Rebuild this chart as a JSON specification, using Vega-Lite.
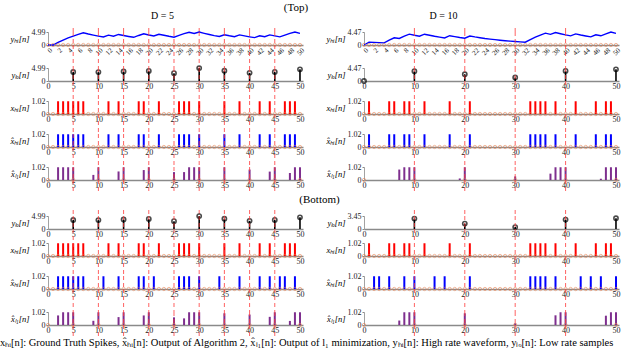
{
"$schema": "https://vega.github.io/schema/vega-lite/v6.json",
"padding": {"left": 0, "top": 2, "right": 0, "bottom": 0},
"title": {"text": "(Top)", "fontSize": 11, "offset": -2.5, "dx": -15, "anchor": "middle"},
"columns": 2,
"spacing": {"row": 0, "column": 61},
"bounds": "flush",
"datasets": {
"all": [{"n":0},{"n":1},{"n":2},{"n":3},{"n":4},{"n":5},{"n":6},{"n":7},{"n":8},{"n":9},{"n":10},{"n":11},{"n":12},{"n":13},{"n":14},{"n":15},{"n":16},{"n":17},{"n":18},{"n":19},{"n":20},{"n":21},{"n":22},{"n":23},{"n":24},{"n":25},{"n":26},{"n":27},{"n":28},{"n":29},{"n":30},{"n":31},{"n":32},{"n":33},{"n":34},{"n":35},{"n":36},{"n":37},{"n":38},{"n":39},{"n":40},{"n":41},{"n":42},{"n":43},{"n":44},{"n":45},{"n":46},{"n":47},{"n":48},{"n":49},{"n":50}],
"c5": [{"n":0},{"n":5},{"n":10},{"n":15},{"n":20},{"n":25},{"n":30},{"n":35},{"n":40},{"n":45},{"n":50}],
"c10": [{"n":0},{"n":10},{"n":20},{"n":30},{"n":40},{"n":50}],
"dL": [{"n":5},{"n":10},{"n":15},{"n":20},{"n":25},{"n":30},{"n":35},{"n":40},{"n":45}],
"dR": [{"n":10},{"n":20},{"n":30},{"n":40}],
"yhiL": [{"n":0,"v":0},{"n":1,"v":0},{"n":2,"v":1},{"n":3,"v":1.9},{"n":4,"v":2.71},{"n":5,"v":3.44},{"n":6,"v":4.1},{"n":7,"v":4.69},{"n":8,"v":4.22},{"n":9,"v":3.8},{"n":10,"v":3.42},{"n":11,"v":3.07},{"n":12,"v":3.77},{"n":13,"v":3.39},{"n":14,"v":4.05},{"n":15,"v":3.65},{"n":16,"v":3.28},{"n":17,"v":2.95},{"n":18,"v":3.66},{"n":19,"v":4.29},{"n":20,"v":3.86},{"n":21,"v":3.48},{"n":22,"v":4.13},{"n":23,"v":3.72},{"n":24,"v":3.34},{"n":25,"v":3.01},{"n":26,"v":3.71},{"n":27,"v":4.34},{"n":28,"v":4.9},{"n":29,"v":4.41},{"n":30,"v":4.97},{"n":31,"v":4.48},{"n":32,"v":4.03},{"n":33,"v":3.62},{"n":34,"v":3.26},{"n":35,"v":3.94},{"n":36,"v":3.54},{"n":37,"v":3.19},{"n":38,"v":3.87},{"n":39,"v":3.48},{"n":40,"v":3.13},{"n":41,"v":2.82},{"n":42,"v":3.54},{"n":43,"v":3.18},{"n":44,"v":3.87},{"n":45,"v":3.48},{"n":46,"v":3.13},{"n":47,"v":3.82},{"n":48,"v":4.44},{"n":49,"v":4.99},{"n":50,"v":4.49}],
"yhiR": [{"n":0,"v":0},{"n":1,"v":1},{"n":2,"v":0.9},{"n":3,"v":0.81},{"n":4,"v":0.73},{"n":5,"v":1.66},{"n":6,"v":2.49},{"n":7,"v":2.24},{"n":8,"v":3.02},{"n":9,"v":3.72},{"n":10,"v":3.34},{"n":11,"v":3.01},{"n":12,"v":3.71},{"n":13,"v":3.34},{"n":14,"v":3.0},{"n":15,"v":2.7},{"n":16,"v":2.43},{"n":17,"v":3.19},{"n":18,"v":2.87},{"n":19,"v":2.58},{"n":20,"v":2.33},{"n":21,"v":3.09},{"n":22,"v":2.78},{"n":23,"v":2.51},{"n":24,"v":2.25},{"n":25,"v":2.03},{"n":26,"v":1.83},{"n":27,"v":1.64},{"n":28,"v":1.48},{"n":29,"v":1.33},{"n":30,"v":1.2},{"n":31,"v":1.08},{"n":32,"v":0.97},{"n":33,"v":1.87},{"n":34,"v":2.69},{"n":35,"v":3.42},{"n":36,"v":4.08},{"n":37,"v":3.67},{"n":38,"v":4.3},{"n":39,"v":3.87},{"n":40,"v":3.48},{"n":41,"v":3.14},{"n":42,"v":3.82},{"n":43,"v":3.44},{"n":44,"v":3.1},{"n":45,"v":2.79},{"n":46,"v":3.51},{"n":47,"v":3.16},{"n":48,"v":3.84},{"n":49,"v":4.46},{"n":50,"v":4.01}],
"yloL": [{"n":5,"v":3.44},{"n":10,"v":3.42},{"n":15,"v":3.65},{"n":20,"v":3.86},{"n":25,"v":3.01},{"n":30,"v":4.97},{"n":35,"v":3.94},{"n":40,"v":3.13},{"n":45,"v":3.48},{"n":50,"v":4.49}],
"yloTR": [{"n":0,"v":0},{"n":10,"v":3.34},{"n":20,"v":2.33},{"n":30,"v":1.2},{"n":40,"v":3.48},{"n":50,"v":4.01}],
"yloBR": [{"n":10,"v":2.77},{"n":20,"v":1.43},{"n":30,"v":0.51},{"n":40,"v":2.49},{"n":50,"v":2.86}],
"xL": [{"n":2,"v":1},{"n":3,"v":1},{"n":4,"v":1},{"n":5,"v":1},{"n":6,"v":1},{"n":7,"v":1},{"n":12,"v":1},{"n":14,"v":1},{"n":18,"v":1},{"n":19,"v":1},{"n":22,"v":1},{"n":26,"v":1},{"n":27,"v":1},{"n":28,"v":1},{"n":30,"v":1},{"n":35,"v":1},{"n":38,"v":1},{"n":42,"v":1},{"n":44,"v":1},{"n":47,"v":1},{"n":48,"v":1},{"n":49,"v":1}],
"xR": [{"n":1,"v":1},{"n":5,"v":1},{"n":6,"v":1},{"n":8,"v":1},{"n":9,"v":1},{"n":12,"v":1},{"n":17,"v":1},{"n":21,"v":1},{"n":33,"v":1},{"n":34,"v":1},{"n":35,"v":1},{"n":36,"v":1},{"n":38,"v":1},{"n":42,"v":1},{"n":46,"v":1},{"n":48,"v":1},{"n":49,"v":1}],
"xhBL": [{"n":2,"v":1},{"n":3,"v":1},{"n":4,"v":1},{"n":5,"v":1},{"n":6,"v":1},{"n":7,"v":1},{"n":11,"v":1},{"n":14,"v":1},{"n":18,"v":1},{"n":19,"v":1},{"n":21,"v":1},{"n":26,"v":1},{"n":27,"v":1},{"n":28,"v":1},{"n":30,"v":1},{"n":34,"v":1},{"n":38,"v":1},{"n":42,"v":1},{"n":44,"v":1},{"n":46,"v":1},{"n":47,"v":1},{"n":49,"v":1}],
"xhBR": [{"n":2,"v":1},{"n":3,"v":1},{"n":5,"v":1},{"n":8,"v":1},{"n":10,"v":1},{"n":14,"v":1},{"n":16,"v":1},{"n":21,"v":1},{"n":33,"v":1},{"n":34,"v":1},{"n":35,"v":1},{"n":36,"v":1},{"n":38,"v":1},{"n":43,"v":1},{"n":45,"v":1},{"n":47,"v":1},{"n":50,"v":1}],
"l1TL": [{"n":2,"v":1},{"n":3,"v":1},{"n":4,"v":1},{"n":5,"v":1},{"n":9,"v":0.4},{"n":10,"v":1},{"n":14,"v":0.67},{"n":15,"v":1},{"n":19,"v":0.78},{"n":20,"v":1},{"n":25,"v":0.62},{"n":27,"v":0.62},{"n":28,"v":1},{"n":29,"v":1},{"n":30,"v":1},{"n":35,"v":1},{"n":40,"v":0.82},{"n":44,"v":0.66},{"n":45,"v":1},{"n":48,"v":0.55},{"n":49,"v":1},{"n":50,"v":1}],
"l1TR": [{"n":7,"v":0.82},{"n":8,"v":1},{"n":9,"v":1},{"n":10,"v":1},{"n":19,"v":0.12},{"n":20,"v":1},{"n":30,"v":0.28},{"n":37,"v":0.5},{"n":38,"v":1},{"n":39,"v":1},{"n":40,"v":1},{"n":47,"v":0.1},{"n":48,"v":1},{"n":49,"v":1},{"n":50,"v":1}],
"l1BL": [{"n":2,"v":0.75},{"n":3,"v":1},{"n":4,"v":1},{"n":5,"v":1},{"n":9,"v":0.33},{"n":10,"v":1},{"n":14,"v":0.62},{"n":15,"v":1},{"n":19,"v":0.75},{"n":20,"v":1},{"n":25,"v":0.6},{"n":27,"v":0.52},{"n":28,"v":1},{"n":29,"v":1},{"n":30,"v":1},{"n":35,"v":0.92},{"n":40,"v":0.82},{"n":44,"v":0.64},{"n":45,"v":1},{"n":48,"v":0.32},{"n":49,"v":1},{"n":50,"v":1}],
"l1BR": [{"n":7,"v":0.35},{"n":8,"v":1},{"n":9,"v":1},{"n":10,"v":1},{"n":20,"v":0.92},{"n":30,"v":0.14},{"n":38,"v":0.76},{"n":39,"v":1},{"n":40,"v":1},{"n":48,"v":0.73},{"n":49,"v":1},{"n":50,"v":1}]
},
"concat": [
{"width":255,"height":4,"title":{"text":"D = 5","fontSize":10,"offset":7,"dx":-13},"data":{"name":"dL"},"mark":{"type":"rule","color":"#ff3b3b","strokeDash":[4,3],"strokeWidth":1,"opacity":0.8},"encoding":{"x":{"field":"n","type":"quantitative","scale":{"domain":[0,50.6],"nice":false},"axis":null}}},
{"width":255,"height":4,"title":{"text":"D = 10","fontSize":10,"offset":7,"dx":-48},"data":{"name":"dR"},"mark":{"type":"rule","color":"#ff3b3b","strokeDash":[4,3],"strokeWidth":1,"opacity":0.8},"encoding":{"x":{"field":"n","type":"quantitative","scale":{"domain":[0,50.6],"nice":false},"axis":null}}},

{"width":255,"height":13,
 "encoding":{"x":{"field":"n","type":"quantitative","scale":{"domain":[0,50.6],"nice":false},"axis":{"values":[0,2,4,6,8,10,12,14,16,18,20,22,24,26,28,30,32,34,36,38,40,42,44,46,48,50],"labelAngle":-45,"labelFontSize":7,"title":null}}},
 "layer":[
  {"data":{"name":"yhiL"},"mark":{"type":"line","color":"#0000ff","strokeWidth":1.4},"encoding":{"y":{"field":"v","type":"quantitative","scale":{"domain":[0,4.99],"nice":false},"axis":{"values":[0,4.99],"format":".3~g","title":"yₕᵢ[n]"}}}},
  {"data":{"name":"all"},"mark":{"type":"point","shape":"circle","filled":false,"color":"#e8804f","size":11,"strokeWidth":0.8},"encoding":{"y":{"datum":0,"type":"quantitative"}}},
  {"data":{"name":"dL"},"mark":{"type":"rule","color":"#ff3b3b","strokeDash":[4,3],"strokeWidth":1,"opacity":0.8},"encoding":{}}
 ]},
{"width":255,"height":13,
 "encoding":{"x":{"field":"n","type":"quantitative","scale":{"domain":[0,50.6],"nice":false},"axis":{"values":[0,2,4,6,8,10,12,14,16,18,20,22,24,26,28,30,32,34,36,38,40,42,44,46,48,50],"labelAngle":-45,"labelFontSize":7,"title":null}}},
 "layer":[
  {"data":{"name":"yhiR"},"mark":{"type":"line","color":"#0000ff","strokeWidth":1.4},"encoding":{"y":{"field":"v","type":"quantitative","scale":{"domain":[0,4.47],"nice":false},"axis":{"values":[0,4.47],"format":".3~g","title":"yₕᵢ[n]"}}}},
  {"data":{"name":"all"},"mark":{"type":"point","shape":"circle","filled":false,"color":"#e8804f","size":11,"strokeWidth":0.8},"encoding":{"y":{"datum":0,"type":"quantitative"}}},
  {"data":{"name":"dR"},"mark":{"type":"rule","color":"#ff3b3b","strokeDash":[4,3],"strokeWidth":1,"opacity":0.8},"encoding":{}}
 ]},

{"width":255,"height":23,"data":{"name":"dL"},"mark":{"type":"rule","color":"#ff3b3b","strokeDash":[4,3],"strokeWidth":1,"opacity":0.8},"encoding":{"x":{"field":"n","type":"quantitative","scale":{"domain":[0,50.6],"nice":false},"axis":null}}},
{"width":255,"height":23,"data":{"name":"dR"},"mark":{"type":"rule","color":"#ff3b3b","strokeDash":[4,3],"strokeWidth":1,"opacity":0.8},"encoding":{"x":{"field":"n","type":"quantitative","scale":{"domain":[0,50.6],"nice":false},"axis":null}}},

{"width":255,"height":13,
 "encoding":{"x":{"field":"n","type":"quantitative","scale":{"domain":[0,50.6],"nice":false},"axis":{"values":[0,5,10,15,20,25,30,35,40,45,50],"title":null}}},
 "layer":[
  {"data":{"name":"yloL"},"mark":{"type":"rule","color":"#000000","strokeWidth":1.6},"encoding":{"y":{"field":"v","type":"quantitative","scale":{"domain":[0,4.99],"nice":false},"axis":{"values":[0,4.99],"format":".3~g","title":"yₗₒ[n]"}},"y2":{"datum":0}}},
  {"data":{"name":"yloL"},"mark":{"type":"point","shape":"circle","filled":false,"color":"#000000","size":18,"strokeWidth":1.6},"encoding":{"y":{"field":"v","type":"quantitative"}}},
  {"data":{"name":"dL"},"mark":{"type":"rule","color":"#ff3b3b","strokeDash":[4,3],"strokeWidth":1,"opacity":0.8},"encoding":{}}
 ]},
{"width":255,"height":13,
 "encoding":{"x":{"field":"n","type":"quantitative","scale":{"domain":[0,50.6],"nice":false},"axis":{"values":[0,10,20,30,40,50],"title":null}}},
 "layer":[
  {"data":{"name":"yloTR"},"mark":{"type":"rule","color":"#000000","strokeWidth":1.6},"encoding":{"y":{"field":"v","type":"quantitative","scale":{"domain":[0,4.47],"nice":false},"axis":{"values":[0,4.47],"format":".3~g","title":"yₗₒ[n]"}},"y2":{"datum":0}}},
  {"data":{"name":"yloTR"},"mark":{"type":"point","shape":"circle","filled":false,"color":"#000000","size":18,"strokeWidth":1.6},"encoding":{"y":{"field":"v","type":"quantitative"}}},
  {"data":{"name":"dR"},"mark":{"type":"rule","color":"#ff3b3b","strokeDash":[4,3],"strokeWidth":1,"opacity":0.8},"encoding":{}}
 ]},

{"width":255,"height":20,"data":{"name":"dL"},"mark":{"type":"rule","color":"#ff3b3b","strokeDash":[4,3],"strokeWidth":1,"opacity":0.8},"encoding":{"x":{"field":"n","type":"quantitative","scale":{"domain":[0,50.6],"nice":false},"axis":null}}},
{"width":255,"height":20,"data":{"name":"dR"},"mark":{"type":"rule","color":"#ff3b3b","strokeDash":[4,3],"strokeWidth":1,"opacity":0.8},"encoding":{"x":{"field":"n","type":"quantitative","scale":{"domain":[0,50.6],"nice":false},"axis":null}}},

{"width":255,"height":13,
 "encoding":{"x":{"field":"n","type":"quantitative","scale":{"domain":[0,50.6],"nice":false},"axis":{"values":[0,5,10,15,20,25,30,35,40,45,50],"title":null}}},
 "layer":[
  {"data":{"name":"xL"},"mark":{"type":"rule","color":"#ff0000","strokeWidth":2},"encoding":{"y":{"field":"v","type":"quantitative","scale":{"domain":[0,1.02],"nice":false},"axis":{"values":[0,1.02],"format":".3~g","title":"xₕᵢ[n]"}},"y2":{"datum":0}}},
  {"data":{"name":"all"},"mark":{"type":"point","shape":"circle","filled":false,"color":"#e8804f","size":11,"strokeWidth":0.8},"encoding":{"y":{"datum":0,"type":"quantitative"}}},
  {"data":{"name":"dL"},"mark":{"type":"rule","color":"#ff3b3b","strokeDash":[4,3],"strokeWidth":1,"opacity":0.8},"encoding":{}}
 ]},
{"width":255,"height":13,
 "encoding":{"x":{"field":"n","type":"quantitative","scale":{"domain":[0,50.6],"nice":false},"axis":{"values":[0,10,20,30,40,50],"title":null}}},
 "layer":[
  {"data":{"name":"xR"},"mark":{"type":"rule","color":"#ff0000","strokeWidth":2},"encoding":{"y":{"field":"v","type":"quantitative","scale":{"domain":[0,1.02],"nice":false},"axis":{"values":[0,1.02],"format":".3~g","title":"xₕᵢ[n]"}},"y2":{"datum":0}}},
  {"data":{"name":"all"},"mark":{"type":"point","shape":"circle","filled":false,"color":"#e8804f","size":11,"strokeWidth":0.8},"encoding":{"y":{"datum":0,"type":"quantitative"}}},
  {"data":{"name":"dR"},"mark":{"type":"rule","color":"#ff3b3b","strokeDash":[4,3],"strokeWidth":1,"opacity":0.8},"encoding":{}}
 ]},

{"width":255,"height":20,"data":{"name":"dL"},"mark":{"type":"rule","color":"#ff3b3b","strokeDash":[4,3],"strokeWidth":1,"opacity":0.8},"encoding":{"x":{"field":"n","type":"quantitative","scale":{"domain":[0,50.6],"nice":false},"axis":null}}},
{"width":255,"height":20,"data":{"name":"dR"},"mark":{"type":"rule","color":"#ff3b3b","strokeDash":[4,3],"strokeWidth":1,"opacity":0.8},"encoding":{"x":{"field":"n","type":"quantitative","scale":{"domain":[0,50.6],"nice":false},"axis":null}}},

{"width":255,"height":13,
 "encoding":{"x":{"field":"n","type":"quantitative","scale":{"domain":[0,50.6],"nice":false},"axis":{"values":[0,5,10,15,20,25,30,35,40,45,50],"title":null}}},
 "layer":[
  {"data":{"name":"xL"},"mark":{"type":"rule","color":"#0000ff","strokeWidth":2},"encoding":{"y":{"field":"v","type":"quantitative","scale":{"domain":[0,1.02],"nice":false},"axis":{"values":[0,1.02],"format":".3~g","title":"x̂ₕᵢ[n]"}},"y2":{"datum":0}}},
  {"data":{"name":"all"},"mark":{"type":"point","shape":"circle","filled":false,"color":"#e8804f","size":11,"strokeWidth":0.8},"encoding":{"y":{"datum":0,"type":"quantitative"}}},
  {"data":{"name":"dL"},"mark":{"type":"rule","color":"#ff3b3b","strokeDash":[4,3],"strokeWidth":1,"opacity":0.8},"encoding":{}}
 ]},
{"width":255,"height":13,
 "encoding":{"x":{"field":"n","type":"quantitative","scale":{"domain":[0,50.6],"nice":false},"axis":{"values":[0,10,20,30,40,50],"title":null}}},
 "layer":[
  {"data":{"name":"xR"},"mark":{"type":"rule","color":"#0000ff","strokeWidth":2},"encoding":{"y":{"field":"v","type":"quantitative","scale":{"domain":[0,1.02],"nice":false},"axis":{"values":[0,1.02],"format":".3~g","title":"x̂ₕᵢ[n]"}},"y2":{"datum":0}}},
  {"data":{"name":"all"},"mark":{"type":"point","shape":"circle","filled":false,"color":"#e8804f","size":11,"strokeWidth":0.8},"encoding":{"y":{"datum":0,"type":"quantitative"}}},
  {"data":{"name":"dR"},"mark":{"type":"rule","color":"#ff3b3b","strokeDash":[4,3],"strokeWidth":1,"opacity":0.8},"encoding":{}}
 ]},

{"width":255,"height":20,"data":{"name":"dL"},"mark":{"type":"rule","color":"#ff3b3b","strokeDash":[4,3],"strokeWidth":1,"opacity":0.8},"encoding":{"x":{"field":"n","type":"quantitative","scale":{"domain":[0,50.6],"nice":false},"axis":null}}},
{"width":255,"height":20,"data":{"name":"dR"},"mark":{"type":"rule","color":"#ff3b3b","strokeDash":[4,3],"strokeWidth":1,"opacity":0.8},"encoding":{"x":{"field":"n","type":"quantitative","scale":{"domain":[0,50.6],"nice":false},"axis":null}}},

{"width":255,"height":13,
 "encoding":{"x":{"field":"n","type":"quantitative","scale":{"domain":[0,50.6],"nice":false},"axis":{"values":[0,5,10,15,20,25,30,35,40,45,50],"title":null}}},
 "layer":[
  {"data":{"name":"l1TL"},"mark":{"type":"rule","color":"#7e2f8e","strokeWidth":2},"encoding":{"y":{"field":"v","type":"quantitative","scale":{"domain":[0,1.02],"nice":false},"axis":{"values":[0,1.02],"format":".3~g","title":"x̂ₗ₁[n]"}},"y2":{"datum":0}}},
  {"data":{"name":"c5"},"mark":{"type":"point","shape":"circle","filled":false,"color":"#e8804f","size":11,"strokeWidth":0.8},"encoding":{"y":{"datum":0,"type":"quantitative"}}},
  {"data":{"name":"dL"},"mark":{"type":"rule","color":"#ff3b3b","strokeDash":[4,3],"strokeWidth":1,"opacity":0.8},"encoding":{}}
 ]},
{"width":255,"height":13,
 "encoding":{"x":{"field":"n","type":"quantitative","scale":{"domain":[0,50.6],"nice":false},"axis":{"values":[0,10,20,30,40,50],"title":null}}},
 "layer":[
  {"data":{"name":"l1TR"},"mark":{"type":"rule","color":"#7e2f8e","strokeWidth":2},"encoding":{"y":{"field":"v","type":"quantitative","scale":{"domain":[0,1.02],"nice":false},"axis":{"values":[0,1.02],"format":".3~g","title":"x̂ₗ₁[n]"}},"y2":{"datum":0}}},
  {"data":{"name":"c10"},"mark":{"type":"point","shape":"circle","filled":false,"color":"#e8804f","size":11,"strokeWidth":0.8},"encoding":{"y":{"datum":0,"type":"quantitative"}}},
  {"data":{"name":"dR"},"mark":{"type":"rule","color":"#ff3b3b","strokeDash":[4,3],"strokeWidth":1,"opacity":0.8},"encoding":{}}
 ]},

{"width":255,"height":12,"data":{"name":"dL"},"mark":{"type":"rule","color":"#ff3b3b","strokeDash":[4,3],"strokeWidth":1,"opacity":0.8},"encoding":{"x":{"field":"n","type":"quantitative","scale":{"domain":[0,50.6],"nice":false},"axis":null}}},
{"width":255,"height":12,"data":{"name":"dR"},"mark":{"type":"rule","color":"#ff3b3b","strokeDash":[4,3],"strokeWidth":1,"opacity":0.8},"encoding":{"x":{"field":"n","type":"quantitative","scale":{"domain":[0,50.6],"nice":false},"axis":null}}},
{"width":255,"height":18,"data":{"values":[]},"mark":{"type":"rule"},"encoding":{"x":{"field":"n","type":"quantitative","scale":{"domain":[0,50.6],"nice":false},"axis":null}}},
{"width":255,"height":18,"data":{"values":[]},"mark":{"type":"rule"},"encoding":{"x":{"field":"n","type":"quantitative","scale":{"domain":[0,50.6],"nice":false},"axis":null}}},
{"width":255,"height":6,"title":{"text":"(Bottom)","fontSize":11,"offset":5,"dx":144},"data":{"name":"dL"},"mark":{"type":"rule","color":"#ff3b3b","strokeDash":[4,3],"strokeWidth":1,"opacity":0.8},"encoding":{"x":{"field":"n","type":"quantitative","scale":{"domain":[0,50.6],"nice":false},"axis":null}}},
{"width":255,"height":6,"data":{"name":"dR"},"mark":{"type":"rule","color":"#ff3b3b","strokeDash":[4,3],"strokeWidth":1,"opacity":0.8},"encoding":{"x":{"field":"n","type":"quantitative","scale":{"domain":[0,50.6],"nice":false},"axis":null}}},

{"width":255,"height":13,
 "encoding":{"x":{"field":"n","type":"quantitative","scale":{"domain":[0,50.6],"nice":false},"axis":{"values":[0,5,10,15,20,25,30,35,40,45,50],"title":null}}},
 "layer":[
  {"data":{"name":"yloL"},"mark":{"type":"rule","color":"#000000","strokeWidth":1.6},"encoding":{"y":{"field":"v","type":"quantitative","scale":{"domain":[0,4.99],"nice":false},"axis":{"values":[0,4.99],"format":".3~g","title":"yₗₒ[n]"}},"y2":{"datum":0}}},
  {"data":{"name":"yloL"},"mark":{"type":"point","shape":"circle","filled":false,"color":"#000000","size":18,"strokeWidth":1.6},"encoding":{"y":{"field":"v","type":"quantitative"}}},
  {"data":{"name":"dL"},"mark":{"type":"rule","color":"#ff3b3b","strokeDash":[4,3],"strokeWidth":1,"opacity":0.8},"encoding":{}}
 ]},
{"width":255,"height":13,
 "encoding":{"x":{"field":"n","type":"quantitative","scale":{"domain":[0,50.6],"nice":false},"axis":{"values":[0,10,20,30,40,50],"title":null}}},
 "layer":[
  {"data":{"name":"yloBR"},"mark":{"type":"rule","color":"#000000","strokeWidth":1.6},"encoding":{"y":{"field":"v","type":"quantitative","scale":{"domain":[0,3.45],"nice":false},"axis":{"values":[0,3.45],"format":".3~g","title":"yₗₒ[n]"}},"y2":{"datum":0}}},
  {"data":{"name":"yloBR"},"mark":{"type":"point","shape":"circle","filled":false,"color":"#000000","size":18,"strokeWidth":1.6},"encoding":{"y":{"field":"v","type":"quantitative"}}},
  {"data":{"name":"dR"},"mark":{"type":"rule","color":"#ff3b3b","strokeDash":[4,3],"strokeWidth":1,"opacity":0.8},"encoding":{}}
 ]},

{"width":255,"height":14,"data":{"name":"dL"},"mark":{"type":"rule","color":"#ff3b3b","strokeDash":[4,3],"strokeWidth":1,"opacity":0.8},"encoding":{"x":{"field":"n","type":"quantitative","scale":{"domain":[0,50.6],"nice":false},"axis":null}}},
{"width":255,"height":14,"data":{"name":"dR"},"mark":{"type":"rule","color":"#ff3b3b","strokeDash":[4,3],"strokeWidth":1,"opacity":0.8},"encoding":{"x":{"field":"n","type":"quantitative","scale":{"domain":[0,50.6],"nice":false},"axis":null}}},

{"width":255,"height":13,
 "encoding":{"x":{"field":"n","type":"quantitative","scale":{"domain":[0,50.6],"nice":false},"axis":{"values":[0,5,10,15,20,25,30,35,40,45,50],"title":null}}},
 "layer":[
  {"data":{"name":"xL"},"mark":{"type":"rule","color":"#ff0000","strokeWidth":2},"encoding":{"y":{"field":"v","type":"quantitative","scale":{"domain":[0,1.02],"nice":false},"axis":{"values":[0,1.02],"format":".3~g","title":"xₕᵢ[n]"}},"y2":{"datum":0}}},
  {"data":{"name":"all"},"mark":{"type":"point","shape":"circle","filled":false,"color":"#e8804f","size":11,"strokeWidth":0.8},"encoding":{"y":{"datum":0,"type":"quantitative"}}},
  {"data":{"name":"dL"},"mark":{"type":"rule","color":"#ff3b3b","strokeDash":[4,3],"strokeWidth":1,"opacity":0.8},"encoding":{}}
 ]},
{"width":255,"height":13,
 "encoding":{"x":{"field":"n","type":"quantitative","scale":{"domain":[0,50.6],"nice":false},"axis":{"values":[0,10,20,30,40,50],"title":null}}},
 "layer":[
  {"data":{"name":"xR"},"mark":{"type":"rule","color":"#ff0000","strokeWidth":2},"encoding":{"y":{"field":"v","type":"quantitative","scale":{"domain":[0,1.02],"nice":false},"axis":{"values":[0,1.02],"format":".3~g","title":"xₕᵢ[n]"}},"y2":{"datum":0}}},
  {"data":{"name":"all"},"mark":{"type":"point","shape":"circle","filled":false,"color":"#e8804f","size":11,"strokeWidth":0.8},"encoding":{"y":{"datum":0,"type":"quantitative"}}},
  {"data":{"name":"dR"},"mark":{"type":"rule","color":"#ff3b3b","strokeDash":[4,3],"strokeWidth":1,"opacity":0.8},"encoding":{}}
 ]},

{"width":255,"height":20,"data":{"name":"dL"},"mark":{"type":"rule","color":"#ff3b3b","strokeDash":[4,3],"strokeWidth":1,"opacity":0.8},"encoding":{"x":{"field":"n","type":"quantitative","scale":{"domain":[0,50.6],"nice":false},"axis":null}}},
{"width":255,"height":20,"data":{"name":"dR"},"mark":{"type":"rule","color":"#ff3b3b","strokeDash":[4,3],"strokeWidth":1,"opacity":0.8},"encoding":{"x":{"field":"n","type":"quantitative","scale":{"domain":[0,50.6],"nice":false},"axis":null}}},

{"width":255,"height":13,
 "encoding":{"x":{"field":"n","type":"quantitative","scale":{"domain":[0,50.6],"nice":false},"axis":{"values":[0,5,10,15,20,25,30,35,40,45,50],"title":null}}},
 "layer":[
  {"data":{"name":"xhBL"},"mark":{"type":"rule","color":"#0000ff","strokeWidth":2},"encoding":{"y":{"field":"v","type":"quantitative","scale":{"domain":[0,1.02],"nice":false},"axis":{"values":[0,1.02],"format":".3~g","title":"x̂ₕᵢ[n]"}},"y2":{"datum":0}}},
  {"data":{"name":"all"},"mark":{"type":"point","shape":"circle","filled":false,"color":"#e8804f","size":11,"strokeWidth":0.8},"encoding":{"y":{"datum":0,"type":"quantitative"}}},
  {"data":{"name":"dL"},"mark":{"type":"rule","color":"#ff3b3b","strokeDash":[4,3],"strokeWidth":1,"opacity":0.8},"encoding":{}}
 ]},
{"width":255,"height":13,
 "encoding":{"x":{"field":"n","type":"quantitative","scale":{"domain":[0,50.6],"nice":false},"axis":{"values":[0,10,20,30,40,50],"title":null}}},
 "layer":[
  {"data":{"name":"xhBR"},"mark":{"type":"rule","color":"#0000ff","strokeWidth":2},"encoding":{"y":{"field":"v","type":"quantitative","scale":{"domain":[0,1.02],"nice":false},"axis":{"values":[0,1.02],"format":".3~g","title":"x̂ₕᵢ[n]"}},"y2":{"datum":0}}},
  {"data":{"name":"all"},"mark":{"type":"point","shape":"circle","filled":false,"color":"#e8804f","size":11,"strokeWidth":0.8},"encoding":{"y":{"datum":0,"type":"quantitative"}}},
  {"data":{"name":"dR"},"mark":{"type":"rule","color":"#ff3b3b","strokeDash":[4,3],"strokeWidth":1,"opacity":0.8},"encoding":{}}
 ]},

{"width":255,"height":23,"data":{"name":"dL"},"mark":{"type":"rule","color":"#ff3b3b","strokeDash":[4,3],"strokeWidth":1,"opacity":0.8},"encoding":{"x":{"field":"n","type":"quantitative","scale":{"domain":[0,50.6],"nice":false},"axis":null}}},
{"width":255,"height":23,"data":{"name":"dR"},"mark":{"type":"rule","color":"#ff3b3b","strokeDash":[4,3],"strokeWidth":1,"opacity":0.8},"encoding":{"x":{"field":"n","type":"quantitative","scale":{"domain":[0,50.6],"nice":false},"axis":null}}},

{"width":255,"height":13,
 "encoding":{"x":{"field":"n","type":"quantitative","scale":{"domain":[0,50.6],"nice":false},"axis":{"values":[0,5,10,15,20,25,30,35,40,45,50],"title":null}}},
 "layer":[
  {"data":{"name":"l1BL"},"mark":{"type":"rule","color":"#7e2f8e","strokeWidth":2},"encoding":{"y":{"field":"v","type":"quantitative","scale":{"domain":[0,1.02],"nice":false},"axis":{"values":[0,1.02],"format":".3~g","title":"x̂ₗ₁[n]"}},"y2":{"datum":0}}},
  {"data":{"name":"c5"},"mark":{"type":"point","shape":"circle","filled":false,"color":"#e8804f","size":11,"strokeWidth":0.8},"encoding":{"y":{"datum":0,"type":"quantitative"}}},
  {"data":{"name":"dL"},"mark":{"type":"rule","color":"#ff3b3b","strokeDash":[4,3],"strokeWidth":1,"opacity":0.8},"encoding":{}}
 ]},
{"width":255,"height":13,
 "encoding":{"x":{"field":"n","type":"quantitative","scale":{"domain":[0,50.6],"nice":false},"axis":{"values":[0,10,20,30,40,50],"title":null}}},
 "layer":[
  {"data":{"name":"l1BR"},"mark":{"type":"rule","color":"#7e2f8e","strokeWidth":2},"encoding":{"y":{"field":"v","type":"quantitative","scale":{"domain":[0,1.02],"nice":false},"axis":{"values":[0,1.02],"format":".3~g","title":"x̂ₗ₁[n]"}},"y2":{"datum":0}}},
  {"data":{"name":"c10"},"mark":{"type":"point","shape":"circle","filled":false,"color":"#e8804f","size":11,"strokeWidth":0.8},"encoding":{"y":{"datum":0,"type":"quantitative"}}},
  {"data":{"name":"dR"},"mark":{"type":"rule","color":"#ff3b3b","strokeDash":[4,3],"strokeWidth":1,"opacity":0.8},"encoding":{}}
 ]},

{"width":255,"height":11,"title":{"text":"xₕᵢ[n]: Ground Truth Spikes,  x̂ₕᵢ[n]: Output of Algorithm 2, x̂ₗ₁[n]: Output of l₁ minimization,  yₕᵢ[n]: High rate waveform,  yₗₒ[n]: Low rate samples","orient":"bottom","anchor":"start","dx":-48,"offset":1,"fontSize":10.5},"data":{"name":"dL"},"mark":{"type":"rule","color":"#ff3b3b","strokeDash":[4,3],"strokeWidth":1,"opacity":0.8},"encoding":{"x":{"field":"n","type":"quantitative","scale":{"domain":[0,50.6],"nice":false},"axis":null}}},
{"width":255,"height":11,"data":{"name":"dR"},"mark":{"type":"rule","color":"#ff3b3b","strokeDash":[4,3],"strokeWidth":1,"opacity":0.8},"encoding":{"x":{"field":"n","type":"quantitative","scale":{"domain":[0,50.6],"nice":false},"axis":null}}}
],
"config": {
  "view": {"stroke": null},
  "font": "Liberation Serif",
  "title": {"font": "Liberation Serif", "fontWeight": "normal", "color": "#000000"},
  "axis": {"labelFont": "Liberation Serif", "labelFontSize": 8, "labelColor": "#222222", "domainColor": "#8a8a8a", "tickColor": "#8a8a8a", "grid": false, "labelFlush": false, "labelOverlap": false, "titleColor": "#000000"},
  "axisX": {"domainWidth": 1.6, "ticks": false, "labelPadding": 1},
  "axisY": {"domainWidth": 0.8, "tickSize": 2, "labelPadding": 1, "titleAngle": 0, "titleAlign": "right", "titleBaseline": "middle", "titleX": -19, "titleY": 6.5, "titleFont": "Liberation Serif", "titleFontStyle": "italic", "titleFontWeight": "normal", "titleFontSize": 8.5, "titlePadding": 0}
}
}
